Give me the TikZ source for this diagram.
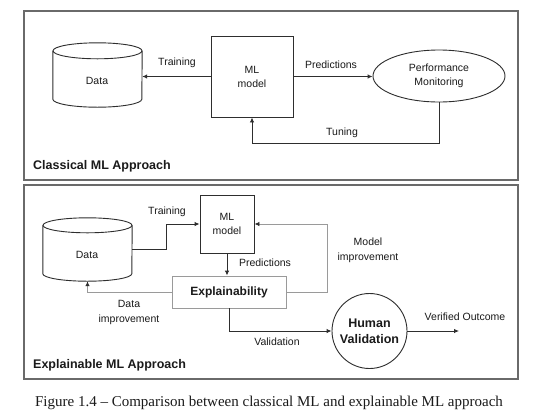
\documentclass[tikz,border=0pt]{standalone}
\usepackage{fontspec}
\setmainfont{Liberation Sans}
\newfontfamily\capfont{Liberation Serif}
\usetikzlibrary{arrows.meta,shapes.geometric,calc}
\definecolor{txt}{HTML}{1A1A1A}
\definecolor{lin}{HTML}{2E2E2E}
\definecolor{lightlin}{HTML}{9A9A9A}
\definecolor{pan}{HTML}{6A6A6A}
\tikzset{
  panel/.style={draw=pan,line width=1.3pt},
  conn/.style={draw=lin,line width=0.9pt,-{Latex[length=5pt,width=4.5pt]}},
  lconn/.style={draw=lightlin,line width=0.9pt,-{Latex[length=5pt,width=4.5pt,fill=lin,color=lin]}},
  lbl/.style={inner sep=0pt,text=txt,font=\fontsize{10.5}{15}\selectfont,align=center},
  blbl/.style={inner sep=0pt,text=txt,font=\fontsize{12.5}{16}\selectfont\bfseries,align=center},
  boxnode/.style={draw=lin,line width=0.9pt,inner sep=0pt,text=txt,font=\fontsize{10.5}{14}\selectfont,align=center},
  ghost/.style={inner sep=0pt},
  cyl/.style={draw=lin,line width=0.9pt},
}
\begin{document}
\begin{tikzpicture}[x=1pt,y=-1pt]
\useasboundingbox (0,0) rectangle (553,416);
\fill[white] (0,0) rectangle (553,416);

% ---------- Classical panel ----------
\node[panel,ghost,minimum width=494pt,minimum height=169pt] (p1) at (271,95.5) {};
\node[ghost,minimum width=89pt,minimum height=64pt] (data1) at (97.5,75) {};
\draw[cyl] ([yshift=-8pt]data1.north) ellipse [x radius=44.5pt,y radius=8pt];
\draw[cyl] ([yshift=-8pt]data1.north west) -- ([yshift=8pt]data1.south west)
  arc[start angle=180,end angle=360,x radius=44.5pt,y radius=8pt]
  -- ([yshift=-8pt]data1.north east);
\node[lbl] (data1txt) at (97,81) {Data};
\node[boxnode,minimum width=82pt,minimum height=81pt] (ml1) at (252,76.5) {ML\\model};
\node[boxnode,ellipse,minimum width=132pt,minimum height=52pt] (perf) at (439,76) {Performance\\Monitoring};
\coordinate (tun) at (439,143.5);
\draw[conn] (ml1.west) -- (ml1.west -| data1.east);
\draw[conn] (ml1.east) -- (ml1.east -| perf.west);
\draw[conn] (perf.south) -- (tun) -| (ml1.south);
\node[lbl] (trainlbl1) at (177,63) {Training};
\node[lbl] (predlbl1) at (331,65) {Predictions};
\node[lbl] (tunlbl) at (342,133) {Tuning};
\node[blbl,anchor=west] (title1) at (33,166) {Classical ML Approach};

% ---------- Explainable panel ----------
\node[panel,ghost,minimum width=494pt,minimum height=194pt] (p2) at (271,282) {};
\node[ghost,minimum width=89pt,minimum height=63pt] (data2) at (87.5,249.5) {};
\draw[cyl] ([yshift=-7.5pt]data2.north) ellipse [x radius=44.5pt,y radius=7.5pt];
\draw[cyl] ([yshift=-7.5pt]data2.north west) -- ([yshift=7.5pt]data2.south west)
  arc[start angle=180,end angle=360,x radius=44.5pt,y radius=7.5pt]
  -- ([yshift=-7.5pt]data2.north east);
\node[lbl] (data2txt) at (87,255) {Data};
\node[boxnode,minimum width=54pt,minimum height=58pt] (ml2) at (227,224) {ML\\model};
\node[boxnode,draw=lightlin,minimum width=114pt,minimum height=32pt,font=\fontsize{12}{14}\selectfont\bfseries] (expl) at (229,292) {Explainability};
\node[boxnode,circle,minimum size=75pt,font=\fontsize{12.5}{16}\selectfont\bfseries] (human) at (369.5,331) {Human\\Validation};
\coordinate (trx) at (166,0);
\coordinate (mix) at (327,0);
\coordinate (verif) at (459,331);
\draw[conn] (data2.east) -- (data2.east -| trx) -- (trx |- ml2.west) -- (ml2.west);
\draw[conn] (ml2.south) -- (ml2.south |- expl.north);
\draw[lconn] (expl.east) -- (expl.east -| mix) -- (mix |- ml2.east) -- (ml2.east);
\draw[lconn] (expl.west) -- (expl.west -| data2.south) -- (data2.south);
\draw[conn] (expl.south) -- (expl.south |- human.west) -- (human.west);
\draw[conn] (human.east) -- (verif);
\node[lbl] (trainlbl2) at (167,212) {Training};
\node[lbl] (predlbl2) at (265,263) {Predictions};
\node[lbl] (milbl) at (368,250) {Model\\improvement};
\node[lbl] (dilbl) at (129,312) {Data\\improvement};
\node[lbl] (vallbl) at (277,342) {Validation};
\node[lbl] (verlbl) at (465,317) {Verified Outcome};
\node[blbl,anchor=west] (title2) at (33,365) {Explainable ML Approach};

% ---------- Caption ----------
\node[inner sep=0pt,text=txt,font=\capfont\fontsize{15}{18}\selectfont] (cap) at (269,403) {Figure 1.4 – Comparison between classical ML and explainable ML approach};
\end{tikzpicture}
\end{document}
